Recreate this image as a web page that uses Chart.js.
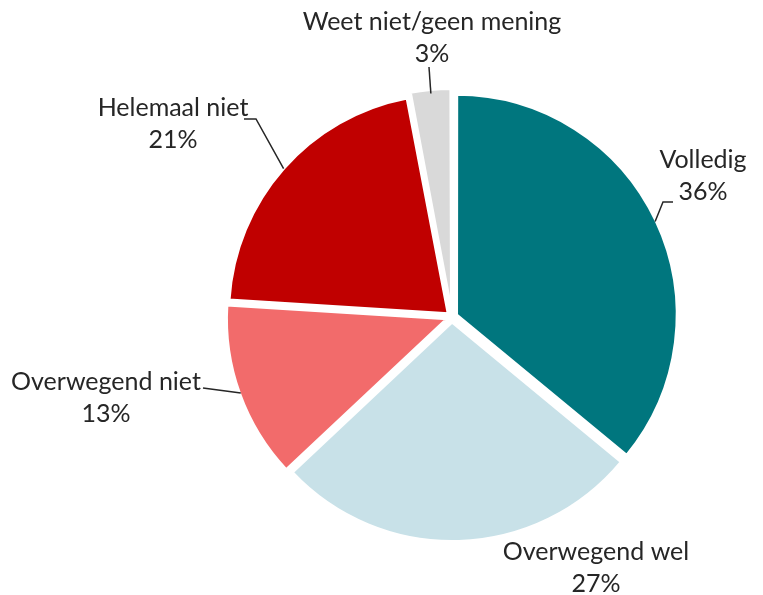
<!DOCTYPE html>
<html>
<head>
<meta charset="utf-8">
<script src="https://cdn.jsdelivr.net/npm/chart.js@4"></script>
<style>
  html, body { margin: 0; padding: 0; background: #fff; }
  #wrap { width: 763px; height: 595px; }
</style>
</head>
<body>
<div id="wrap"><canvas id="pie"></canvas></div>
<script>
// Chart data
const categories = ["Volledig", "Overwegend wel", "Overwegend niet", "Helemaal niet", "Weet niet/geen mening"];
const shares = [36, 27, 13, 21, 3];
const sliceColors = ["#00767E", "#C8E1E8", "#F26B6B", "#C00000", "#D9D9D9"];

// Label placement (text centre x, first line y, leader elbow points)
const labelLayout = [
    { x: 703, y: 160, path: [[673, 202], [663, 202]] },
    { x: 596, y: 552, path: null },
    { x: 106, y: 382, path: [[203, 388]] },
    { x: 173, y: 108, path: [[244, 119], [256, 119]] },
    { x: 432, y: 22, path: [[429, 67]] }
];

const labelPlugin = {
    id: "sliceLabels",
    afterDatasetsDraw(chart) {
        const ctx = chart.ctx;
        const meta = chart.getDatasetMeta(0);
        // arc elements translate by offset / 4
        const shift = chart.data.datasets[0].offset / 4;
        ctx.save();
        meta.data.forEach((arc, i) => {
            const lay = labelLayout[i];
            const p = arc.getProps(["x", "y", "startAngle", "endAngle", "outerRadius"], true);
            const mid = (p.startAngle + p.endAngle) / 2;
            const r = p.outerRadius + shift;
            const ex = p.x + Math.cos(mid) * r;
            const ey = p.y + Math.sin(mid) * r;

            if (lay.path) {
                ctx.beginPath();
                ctx.strokeStyle = "#262626";
                ctx.lineWidth = 1.5;
                ctx.moveTo(lay.path[0][0], lay.path[0][1]);
                for (let k = 1; k < lay.path.length; k++) ctx.lineTo(lay.path[k][0], lay.path[k][1]);
                ctx.lineTo(ex, ey);
                ctx.stroke();
            }

            ctx.fillStyle = "#262626";
            ctx.font = "25px Lato";
            ctx.textAlign = "center";
            ctx.textBaseline = "middle";
            ctx.fillText(categories[i], lay.x, lay.y);
            ctx.fillText(shares[i] + "%", lay.x, lay.y + 32);
        });
        ctx.restore();
    }
};

new Chart(document.getElementById("pie").getContext("2d"), {
    type: "pie",
    data: {
        labels: categories,
        datasets: [{
            data: shares,
            backgroundColor: sliceColors,
            borderColor: "#ffffff",
            borderWidth: 3,
            offset: 20
        }]
    },
    options: {
        responsive: true,
        maintainAspectRatio: false,
        animation: false,
        layout: { padding: { left: 221, right: 80, top: 86, bottom: 47 } },
        plugins: {
            legend: { display: false },
            tooltip: { enabled: false }
        }
    },
    plugins: [labelPlugin]
});
</script>
</body>
</html>
